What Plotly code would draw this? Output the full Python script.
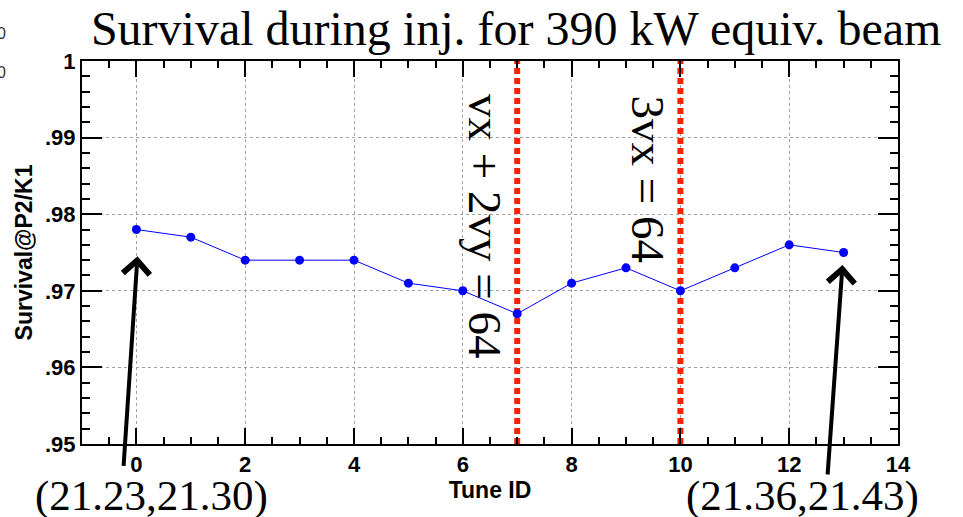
import plotly.graph_objects as go

# Survival per tune setting during injection
tune_id = list(range(14))
survival = [0.978, 0.977, 0.974, 0.974, 0.974, 0.971, 0.970,
            0.967, 0.971, 0.973, 0.970, 0.973, 0.976, 0.975]

# Resonance lines crossed by the tune scan
resonance_tunes = [7, 10]
resonance_labels = ["vx + 2vy = 64", "3vx = 64"]

# Tune pairs at the two ends of the scan
endpoint_labels = ["(21.23,21.30)", "(21.36,21.43)"]

x_tick_vals = [0, 2, 4, 6, 8, 10, 12, 14]
y_tick_vals = [0.95, 0.96, 0.97, 0.98, 0.99, 1.0]
y_tick_text = [".95", ".96", ".97", ".98", ".99", "1"]

SERIF = "Liberation Serif"
SANS = "Liberation Sans"
RED = "#ff2200"
BLUE = "#0000ff"

fig = go.Figure()

for r in resonance_tunes:
    fig.add_trace(go.Scatter(
        x=[r, r], y=[y_tick_vals[0], y_tick_vals[-1]], mode="lines",
        line=dict(color=RED, width=6, dash="6px,4px"),
        hoverinfo="skip", showlegend=False,
    ))

fig.add_trace(go.Scatter(
    x=tune_id, y=survival, mode="lines+markers",
    line=dict(color=BLUE, width=1),
    marker=dict(color=BLUE, size=9, symbol="circle"),
    showlegend=False,
))

annotations = []

# Resonance labels, written downwards beside each line
label_pos = [(6.40, 0.9784), (9.41, 0.9845)]
for text, (lx, ly) in zip(resonance_labels, label_pos):
    annotations.append(dict(
        x=lx, y=ly, xref="x", yref="y", text=text, showarrow=False,
        textangle=90, xanchor="center", yanchor="middle",
        font=dict(family=SERIF, size=47, color="black"),
    ))

# Arrows from the end-point tune labels up to the first and last points
arrow_heads = [(0.02, 0.9745, -14, 211), (12.98, 0.97337, -15, 211)]
for hx, hy, ax, ay in arrow_heads:
    annotations.append(dict(
        x=hx, y=hy, xref="x", yref="y", text="", showarrow=True,
        ax=ax, ay=ay, axref="pixel", ayref="pixel",
        arrowhead=4, arrowsize=1.3, arrowwidth=4, arrowcolor="black",
    ))

label_x = [0.28, 12.24]
for text, lx in zip(endpoint_labels, label_x):
    annotations.append(dict(
        x=lx, y=-0.137, xref="x", yref="paper", text=text, showarrow=False,
        xanchor="center", yanchor="middle",
        font=dict(family=SERIF, size=43, color="black"),
    ))

# Clipped stat-box digits at the left edge
for yy in [1.073, 0.969]:
    annotations.append(dict(
        x=-0.0907, y=yy, xref="paper", yref="paper", text="0", showarrow=False,
        xanchor="right", yanchor="middle",
        font=dict(family=SANS, size=16, color="#333333"),
    ))

axis_common = dict(
    showline=True, linecolor="black", linewidth=2, mirror="allticks",
    ticks="inside", tickcolor="black", tickwidth=1.5,
    showgrid=True, gridcolor="#a0a0a0", gridwidth=1, griddash="dot",
    zeroline=False,
    tickfont=dict(family=SANS, size=22, color="black", weight="bold"),
)

fig.update_layout(
    width=963, height=517,
    margin=dict(l=82, r=65, t=61, b=73),
    paper_bgcolor="white", plot_bgcolor="white",
    title=dict(
        text="Survival during inj. for 390 kW equiv. beam",
        x=0.536, xanchor="center", y=0.946, yanchor="middle",
        font=dict(family=SERIF, size=48, color="black"),
    ),
    xaxis=dict(
        range=[-1, 14], tickvals=x_tick_vals, ticklen=16,
        minor=dict(tick0=0, dtick=0.5, ticklen=7, ticks="inside",
                   tickcolor="black", showgrid=False),
        title=dict(text="Tune ID", standoff=3,
                   font=dict(family=SANS, size=23, color="black", weight="bold")),
        **axis_common,
    ),
    yaxis=dict(
        range=[0.95, 1.0], tickvals=y_tick_vals, ticktext=y_tick_text,
        ticklen=20,
        minor=dict(tick0=0.95, dtick=0.002, ticklen=8, ticks="inside",
                   tickcolor="black", showgrid=False),
        title=dict(text="Survival@P2/K1", standoff=6,
                   font=dict(family=SANS, size=23, color="black", weight="bold")),
        **axis_common,
    ),
    annotations=annotations,
)

fig.write_html("out.html")
